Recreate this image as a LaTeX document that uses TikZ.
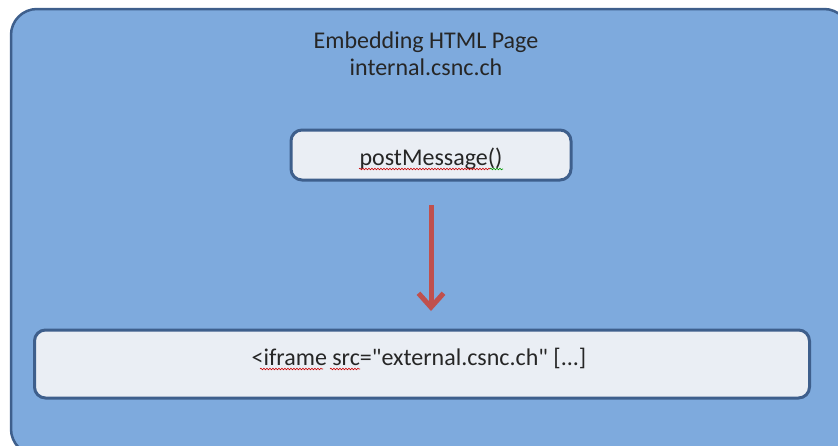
\documentclass[tikz,border=0pt]{standalone}
\usepackage{fontspec}
\setmainfont{Carlito}[Ligatures=TeXOff]
\usetikzlibrary{arrows.meta,decorations.pathmorphing}
\definecolor{outerfill}{RGB}{126,170,221}
\definecolor{outerline}{RGB}{62,95,140}
\definecolor{boxfill}{RGB}{234,238,244}
\definecolor{arrowred}{RGB}{192,80,77}
\tikzset{
  boxstyle/.style={draw=outerline, fill=boxfill, line width=3pt, rounded corners=11pt},
  lbl/.style={font=\fontsize{24}{28}\selectfont, text=black!85, inner sep=0pt, anchor=base},
  squiggle/.style={draw=red!80!black, line width=0.6pt, decorate, decoration={snake, amplitude=0.8pt, segment length=3pt}}
}
\begin{document}
\begin{tikzpicture}[x=1pt,y=-1pt]
\useasboundingbox (0,0) rectangle (838,445);
\begin{scope}
\clip (0,0) rectangle (838,445);
\draw[draw=outerline, fill=outerfill, line width=2.5pt, rounded corners=26pt] (11,9) rectangle (850,455);
\end{scope}
\node[lbl] (title1) at (426,48) {Embedding HTML Page};
\node[lbl] (title2) at (426,75) {internal.csnc.ch};
\node[boxstyle, minimum width=280pt, minimum height=50pt] (pm) at (431,155) {};
\node[lbl] (pmt) at (431,165) {postMessage()};
\node[boxstyle, minimum width=775pt, minimum height=68pt] (ifr) at (422,364) {};
\node[lbl] (ift) at (419,365) {<iframe src="external.csnc.ch" [...]};
\coordinate (a1) at (431,205);
\coordinate (a2) at (431,311);
\draw[arrowred, line width=5pt, -{Straight Barb[length=14pt,width=25pt,line width=5pt]}] (a1) -- (a2);
\draw[squiggle] (359,169) -- (490,169);
\draw[draw=green!60!black, line width=0.6pt, decorate, decoration={snake, amplitude=0.8pt, segment length=3pt}] (490,169) -- (503,169);
\draw[squiggle] (260,369) -- (323,369);
\draw[squiggle] (330,369) -- (360,369);
\end{tikzpicture}
\end{document}
